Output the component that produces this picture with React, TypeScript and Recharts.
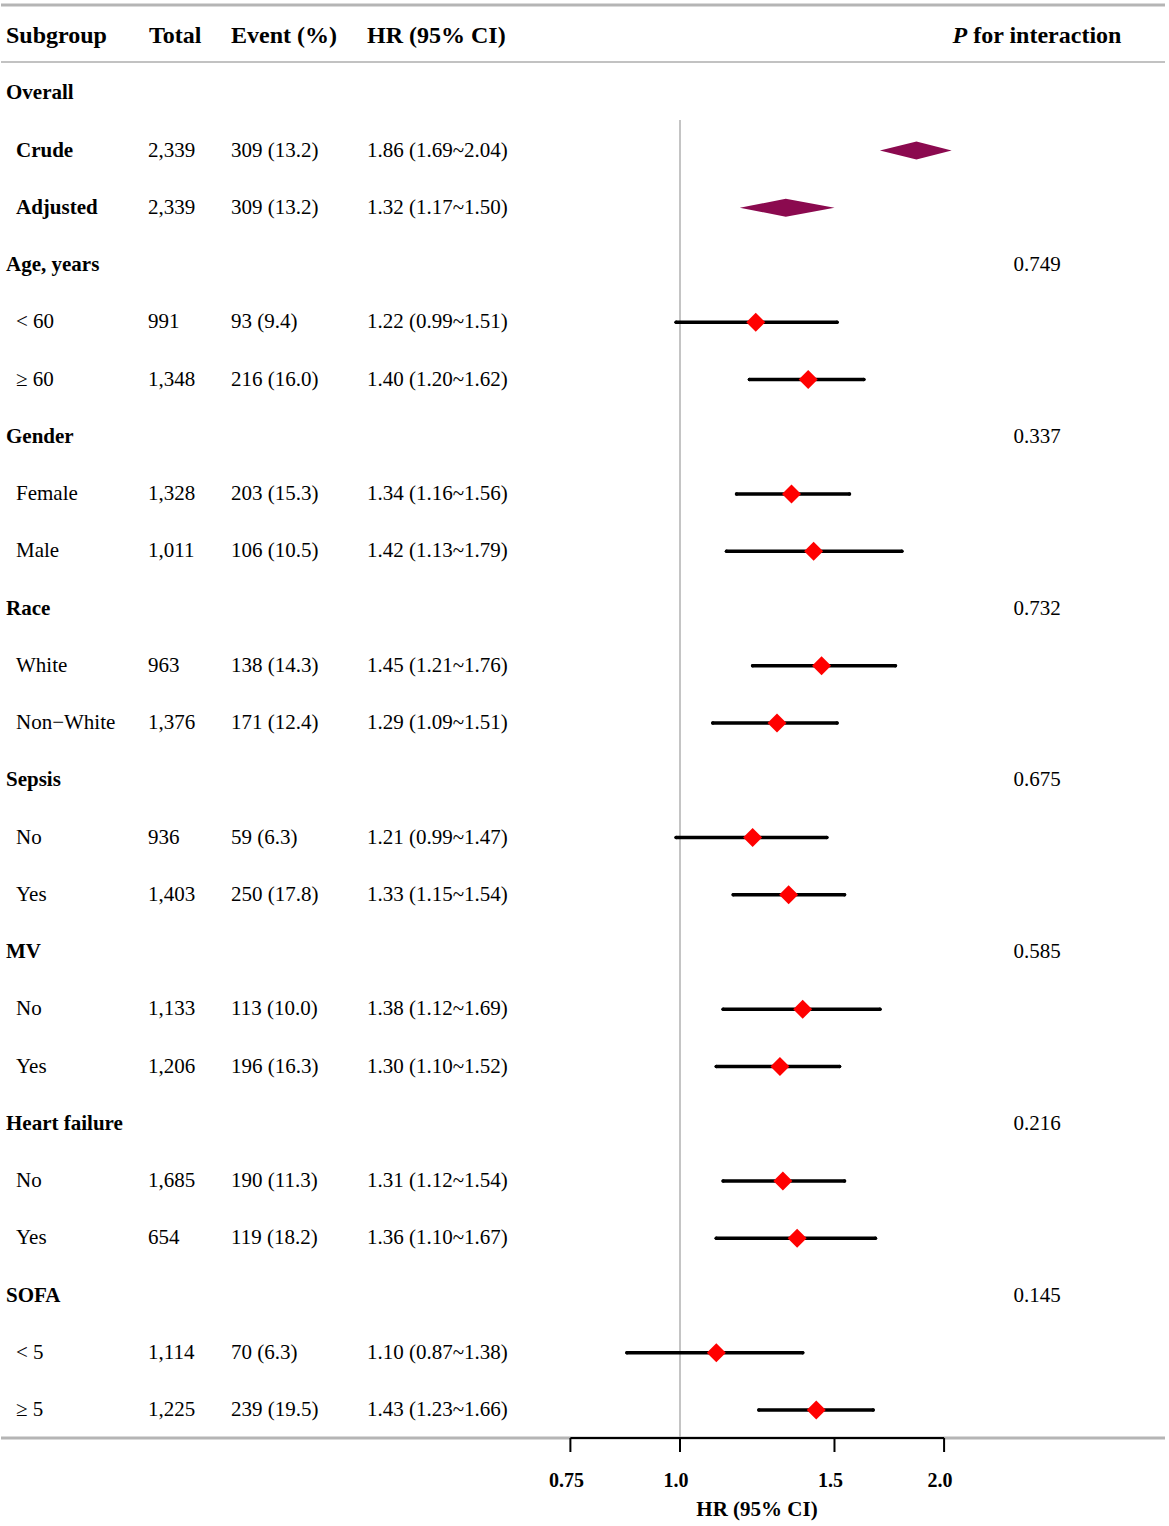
import React from "react";
import { ScatterChart, Scatter, XAxis, YAxis, ErrorBar, ReferenceLine, Label } from "recharts";

// rows below the header, top to bottom
const labels = [
  "Overall", "Crude", "Adjusted",
  "Age, years", "< 60", "≥ 60",
  "Gender", "Female", "Male",
  "Race", "White", "Non−White",
  "Sepsis", "No", "Yes",
  "MV", "No", "Yes",
  "Heart failure", "No", "Yes",
  "SOFA", "< 5", "≥ 5",
];
const rowKinds = [
  "group", "overall", "overall",
  "group", "sub", "sub",
  "group", "sub", "sub",
  "group", "sub", "sub",
  "group", "sub", "sub",
  "group", "sub", "sub",
  "group", "sub", "sub",
  "group", "sub", "sub",
];
const totals = [
  null, "2,339", "2,339",
  null, "991", "1,348",
  null, "1,328", "1,011",
  null, "963", "1,376",
  null, "936", "1,403",
  null, "1,133", "1,206",
  null, "1,685", "654",
  null, "1,114", "1,225",
];
const events = [
  null, "309 (13.2)", "309 (13.2)",
  null, "93 (9.4)", "216 (16.0)",
  null, "203 (15.3)", "106 (10.5)",
  null, "138 (14.3)", "171 (12.4)",
  null, "59 (6.3)", "250 (17.8)",
  null, "113 (10.0)", "196 (16.3)",
  null, "190 (11.3)", "119 (18.2)",
  null, "70 (6.3)", "239 (19.5)",
];
const hrEst = [
  null, 1.86, 1.32,
  null, 1.22, 1.4,
  null, 1.34, 1.42,
  null, 1.45, 1.29,
  null, 1.21, 1.33,
  null, 1.38, 1.3,
  null, 1.31, 1.36,
  null, 1.1, 1.43,
];
const hrLow = [
  null, 1.69, 1.17,
  null, 0.99, 1.2,
  null, 1.16, 1.13,
  null, 1.21, 1.09,
  null, 0.99, 1.15,
  null, 1.12, 1.1,
  null, 1.12, 1.1,
  null, 0.87, 1.23,
];
const hrHigh = [
  null, 2.04, 1.5,
  null, 1.51, 1.62,
  null, 1.56, 1.79,
  null, 1.76, 1.51,
  null, 1.47, 1.54,
  null, 1.69, 1.52,
  null, 1.54, 1.67,
  null, 1.38, 1.66,
];
const pInteraction = [
  null, null, null,
  "0.749", null, null,
  "0.337", null, null,
  "0.732", null, null,
  "0.675", null, null,
  "0.585", null, null,
  "0.216", null, null,
  "0.145", null, null,
];
const xTicks = [0.75, 1, 1.5, 2];

// layout
const W = 1169;
const H = 1526;
const PLOT_LEFT = 1;
const PLOT_RIGHT = 1165;
const PLOT_BOTTOM = 1438;
const REF_PX = 680;
const PX_PER_LN = 381;
const ROW0_PX = 36;
const ROW_PX = 57.25;
const FONT = "'Liberation Serif', 'Times New Roman', Times, serif";

const xMin = Math.exp(-(REF_PX - PLOT_LEFT) / PX_PER_LN);
const xMax = Math.exp((PLOT_RIGHT - REF_PX) / PX_PER_LN);
const yMin = (0 - ROW0_PX) / ROW_PX;
const yMax = (PLOT_BOTTOM - ROW0_PX) / ROW_PX;
const pxToRow = (px: number) => (px - ROW0_PX) / ROW_PX;

const rows = labels.map((label, k) => ({
  i: k + 1,
  label,
  kind: rowKinds[k],
  total: totals[k],
  event: events[k],
  est: hrEst[k],
  lo: hrLow[k],
  hi: hrHigh[k],
  p: pInteraction[k],
}));
const rowTicks = [0, ...rows.map((r) => r.i)];

const subPoints = rows
  .filter((r) => r.kind === "sub" && r.est != null)
  .map((r) => ({ x: r.est as number, y: r.i, err: [(r.est as number) - (r.lo as number), (r.hi as number) - (r.est as number)] }));

const overallRows = rows.filter((r) => r.kind === "overall");

const fmt = (v: number) => v.toFixed(2);

function RowTick(props: any) {
  const { payload } = props;
  const y = props.y - 1;
  const i = payload.value;
  const base = { fontFamily: FONT, fill: "#000", dominantBaseline: "central" as const };
  if (i === 0) {
    const hs = { ...base, fontSize: 24, fontWeight: 700 };
    return (
      <g>
        <text x={6} y={y} {...hs}>Subgroup</text>
        <text x={149} y={y} {...hs}>Total</text>
        <text x={231} y={y} {...hs}>Event (%)</text>
        <text x={367} y={y} {...hs}>HR (95% CI)</text>
        <text x={1037} y={y} textAnchor="middle" {...hs}>
          <tspan fontStyle="italic">P</tspan> for interaction
        </text>
      </g>
    );
  }
  const r = rows[i - 1];
  if (!r) return <g />;
  const ts = { ...base, fontSize: 21 };
  const labelX = r.kind === "group" ? 6 : 16;
  const bold = r.kind !== "sub";
  return (
    <g>
      <text x={labelX} y={y} {...ts} fontWeight={bold ? 700 : 400}>{r.label}</text>
      {r.total && <text x={148} y={y} {...ts}>{r.total}</text>}
      {r.event && <text x={231} y={y} {...ts}>{r.event}</text>}
      {r.est != null && (
        <text x={367} y={y} {...ts}>
          {`${fmt(r.est)} (${fmt(r.lo as number)}~${fmt(r.hi as number)})`}
        </text>
      )}
      {r.p && <text x={1037} y={y} textAnchor="middle" {...ts}>{r.p}</text>}
    </g>
  );
}

function XTick(props: any) {
  const { x, y, payload } = props;
  const v = payload.value;
  const text = v === 0.75 ? "0.75" : v.toFixed(1);
  return (
    <text x={x - 4} y={y + 33} textAnchor="middle" fontFamily={FONT} fontSize={20} fontWeight={700} fill="#000">
      {text}
    </text>
  );
}

function RedDiamond(props: any) {
  const { cx, cy } = props;
  const s = 9.5;
  return <polygon points={`${cx - s},${cy} ${cx},${cy - s} ${cx + s},${cy} ${cx},${cy + s}`} fill="#ff0000" />;
}

function OverallDiamond(props: any) {
  const pts = props.points as { x: number; y: number }[];
  if (!pts || pts.length < 3) return <g />;
  const [a, b, c] = pts;
  const h = 9;
  return (
    <polygon
      points={`${a.x},${a.y} ${b.x},${b.y - h} ${c.x},${c.y} ${b.x},${b.y + h}`}
      fill="#8b0a4f"
      stroke="none"
    />
  );
}

export default function App() {
  return (
    <div style={{ position: "absolute", left: 0, top: 0, width: W, height: H, background: "#fff" }}>
      <ScatterChart width={W} height={H} margin={{ top: 0, right: W - PLOT_RIGHT, bottom: 0, left: 0 }}>
        <XAxis
          type="number"
          dataKey="x"
          scale="log"
          domain={[xMin, xMax]}
          allowDataOverflow
          ticks={xTicks}
          interval={0}
          axisLine={false}
          tickLine={{ stroke: "#000", strokeWidth: 2 }}
          tickSize={14}
          tick={<XTick />}
          height={H - PLOT_BOTTOM}
        >
          <Label
            content={() => (
              <text x={757} y={1509} textAnchor="middle" dominantBaseline="central" fontFamily={FONT} fontSize={21} fontWeight={700} fill="#000">
                HR (95% CI)
              </text>
            )}
          />
        </XAxis>
        <YAxis
          type="number"
          dataKey="y"
          domain={[yMin, yMax]}
          reversed
          allowDataOverflow
          ticks={rowTicks}
          interval={0}
          axisLine={false}
          tickLine={false}
          width={PLOT_LEFT}
          tick={<RowTick />}
        />
        <ReferenceLine y={pxToRow(5)} stroke="#b5b5b5" strokeWidth={3} />
        <ReferenceLine y={pxToRow(62)} stroke="#c2c2c2" strokeWidth={2} />
        <ReferenceLine y={yMax} stroke="#b5b5b5" strokeWidth={3} />
        <ReferenceLine
          segment={[
            { x: 1, y: pxToRow(120) },
            { x: 1, y: yMax },
          ]}
          stroke="#b0b0b0"
          strokeWidth={1.5}
        />
        <ReferenceLine
          segment={[
            { x: xTicks[0], y: yMax },
            { x: xTicks[xTicks.length - 1], y: yMax },
          ]}
          stroke="#000"
          strokeWidth={2}
        />
        {overallRows.map((r) => (
          <Scatter
            key={r.i}
            data={[
              { x: r.lo, y: r.i },
              { x: r.est, y: r.i },
              { x: r.hi, y: r.i },
            ]}
            line={(p: any) => <OverallDiamond {...p} />}
            lineType="joint"
            shape={() => <g />}
            isAnimationActive={false}
          />
        ))}
        <Scatter data={subPoints} shape={<RedDiamond />} isAnimationActive={false}>
          <ErrorBar
            dataKey="err"
            direction="x"
            width={0}
            stroke="#000"
            strokeWidth={3.5}
            strokeLinecap="round"
            isAnimationActive={false}
          />
        </Scatter>
      </ScatterChart>
    </div>
  );
}
